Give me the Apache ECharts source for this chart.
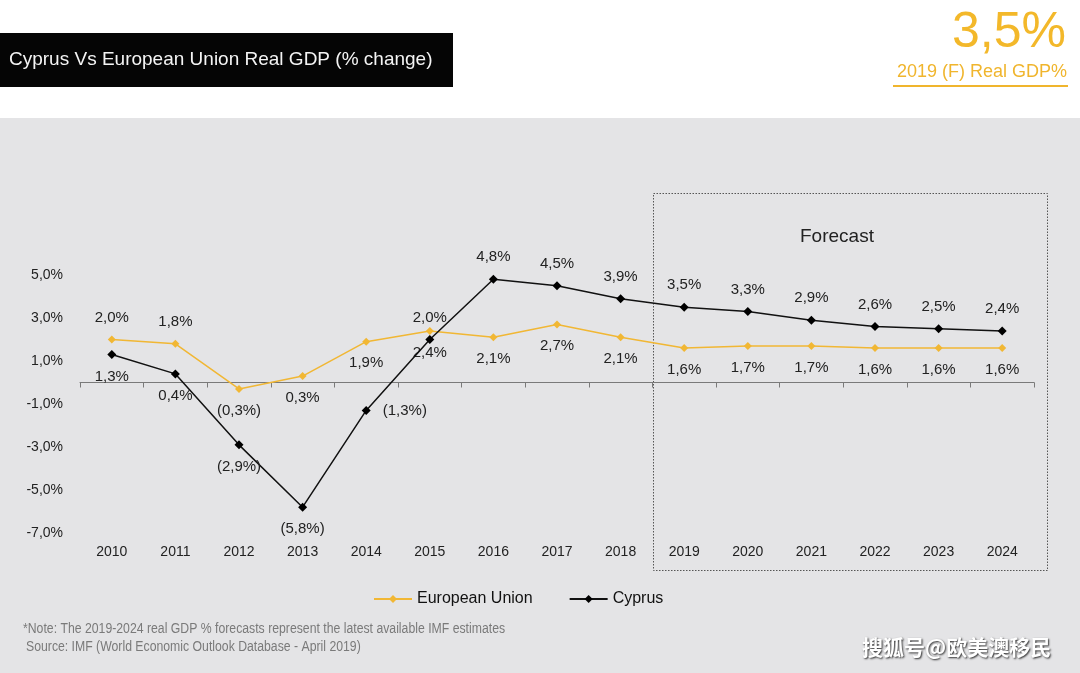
<!DOCTYPE html>
<html>
<head>
<meta charset="utf-8">
<script src="https://cdn.jsdelivr.net/npm/echarts@6/dist/echarts.min.js"></script>
<style>
  html, body { margin: 0; padding: 0; background: #ffffff; }
  #chart { width: 1080px; height: 673px; }
</style>
</head>
<body>
<div id="chart"></div>
<script>
// ---- Data ----
var years = ['2010','2011','2012','2013','2014','2015','2016','2017','2018','2019','2020','2021','2022','2023','2024'];
var euValues = [2.0, 1.8, -0.3, 0.3, 1.9, 2.4, 2.1, 2.7, 2.1, 1.6, 1.7, 1.7, 1.6, 1.6, 1.6];
var cyprusValues = [1.3, 0.4, -2.9, -5.8, -1.3, 2.0, 4.8, 4.5, 3.9, 3.5, 3.3, 2.9, 2.6, 2.5, 2.4];
var yTicks = [-7, -5, -3, -1, 1, 3, 5];

// label placement (kept separate from data values)
var euLabelPlace = ['top','top','bottom','bottom','bottom','bottom','bottom','bottom','bottom','bottom','bottom','bottom','bottom','bottom','bottom'];
var cyLabelPlace = ['bottom','bottom','bottom','bottom','right','top','top','top','top','top','top','top','top','top','top'];

function fmt(v) { return Math.abs(v).toFixed(1).replace('.', ','); }
function pctLabel(v) { return v < 0 ? '(' + fmt(v) + '%)' : fmt(v) + '%'; }

function buildData(vals, places) {
  return vals.map(function (v, i) {
    var p = places[i];
    return { value: v, label: { position: p, distance: p === 'right' ? 12 : 10 } };
  });
}

var FONT = '"Liberation Sans", Arial, sans-serif';
var chart = echarts.init(document.getElementById('chart'), null, { renderer: 'canvas' });

var option = {
  backgroundColor: '#ffffff',
  animation: false,
  textStyle: { fontFamily: FONT },
  graphic: [
    { type: 'rect', z: -10, shape: { x: 0, y: 118, width: 1080, height: 555 }, style: { fill: '#e4e4e6' } },
    { type: 'rect', shape: { x: 0, y: 33, width: 453, height: 54 }, style: { fill: '#050505' } },
    { type: 'text', left: 9, top: 50, style: { text: 'Cyprus Vs European Union Real GDP (% change)', fill: '#f4f4f4', font: '19px ' + FONT } },
    { type: 'text', right: 14, top: 8, style: { text: '3,5%', fill: '#f3b82a', font: '50px ' + FONT } },
    { type: 'text', right: 13, top: 63, style: { text: '2019 (F) Real GDP%', fill: '#f0b52d', font: '18px ' + FONT } },
    { type: 'rect', shape: { x: 893, y: 85, width: 175, height: 2 }, style: { fill: '#f0b52d' } },
    { type: 'rect', shape: { x: 653.5, y: 193.5, width: 394, height: 377 }, style: { fill: 'none', stroke: '#555', lineWidth: 1, lineDash: [1.5, 1.5] } },
    { type: 'text', left: 800, top: 227, style: { text: 'Forecast', fill: '#222', font: '19px ' + FONT } },
    { type: 'text', x: 23, y: 622, scaleX: 0.875, style: { text: '*Note: The 2019-2024 real GDP % forecasts represent the latest available IMF estimates', fill: '#7a7a7a', font: '14px ' + FONT } },
    { type: 'text', x: 26, y: 640, scaleX: 0.875, style: { text: 'Source: IMF (World Economic Outlook Database - April 2019)', fill: '#7a7a7a', font: '14px ' + FONT } },
    { type: 'text', left: 862, top: 637, style: { text: '搜狐号@欧美澳移民', fill: '#ffffff', font: 'bold 21px "Noto Sans CJK SC", sans-serif', textShadowColor: 'rgba(0,0,0,0.8)', textShadowBlur: 2, textShadowOffsetX: 1, textShadowOffsetY: 1 } }
  ],
  legend: {
    left: 368, top: 586,
    itemWidth: 38, itemHeight: 10, itemGap: 36,
    textStyle: { fontSize: 16, color: '#111', fontFamily: FONT },
    data: ['European Union', 'Cyprus']
  },
  grid: { left: 80, right: 46, top: 275, bottom: 140, containLabel: false },
  xAxis: [
    {
      type: 'category', data: years, position: 'bottom', boundaryGap: true,
      axisLine: { show: false, onZero: false }, axisTick: { show: false },
      axisLabel: { margin: 12, fontSize: 14, color: '#222', fontFamily: FONT }
    },
    {
      type: 'category', data: years, position: 'top', boundaryGap: true,
      axisLine: { show: true, onZero: true, lineStyle: { color: '#7a7a7a', width: 1 } },
      axisTick: { show: true, inside: true, length: 5, lineStyle: { color: '#7a7a7a' } },
      axisLabel: { show: false }, splitLine: { show: false }
    }
  ],
  yAxis: {
    type: 'value', min: yTicks[0], max: yTicks[yTicks.length - 1], interval: 2,
    axisLine: { show: false }, axisTick: { show: false }, splitLine: { show: false },
    axisLabel: { margin: 17, fontSize: 14, color: '#222', fontFamily: FONT,
      formatter: function (v) { return (v < 0 ? '-' : '') + fmt(v) + '%'; } }
  },
  series: [
    {
      name: 'European Union', type: 'line', xAxisIndex: 0,
      data: buildData(euValues, euLabelPlace),
      symbol: 'diamond', symbolSize: 8,
      itemStyle: { color: '#f1b734' },
      lineStyle: { color: '#f1b734', width: 1.5 },
      label: { show: true, fontSize: 15, color: '#222', fontFamily: FONT,
        formatter: function (p) { return pctLabel(p.value); } },
      z: 2
    },
    {
      name: 'Cyprus', type: 'line', xAxisIndex: 0,
      data: buildData(cyprusValues, cyLabelPlace),
      symbol: 'diamond', symbolSize: 9,
      itemStyle: { color: '#000' },
      lineStyle: { color: '#111', width: 1.5 },
      label: { show: true, fontSize: 15, color: '#222', fontFamily: FONT,
        formatter: function (p) { return pctLabel(p.value); } },
      z: 3
    }
  ]
};
chart.setOption(option);
</script>
</body>
</html>
